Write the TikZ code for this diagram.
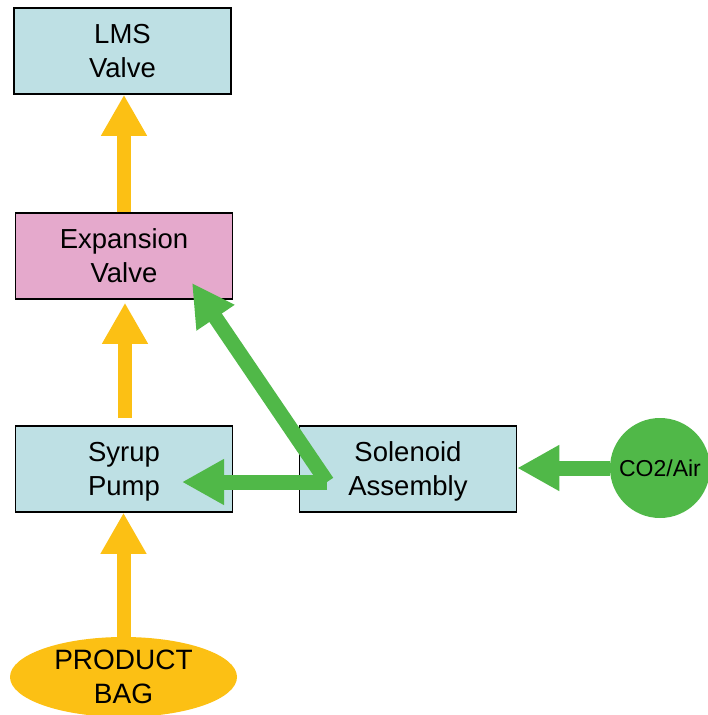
\documentclass[tikz,border=0pt]{standalone}
\usepackage{fontspec}
\setmainfont{Liberation Sans}
\usetikzlibrary{arrows.meta,shapes.geometric,calc}
\definecolor{boxblue}{RGB}{190,224,228}
\definecolor{boxpink}{RGB}{229,169,204}
\definecolor{flowyellow}{RGB}{252,192,20}
\definecolor{flowgreen}{RGB}{80,184,72}
\tikzset{
  unitbox/.style={draw=black, line width=1.5pt, minimum width=217pt, minimum height=86pt,
    inner sep=0pt, align=center, text depth=0pt, font=\fontsize{27.5}{34}\selectfont},
  yarrow/.style={draw=flowyellow, line width=14pt, -{Triangle[width=43pt,length=41pt]}, flowyellow},
  garrow/.style={draw=flowgreen, line width=15pt, -{Triangle[width=43pt,length=42pt]}, flowgreen},
  bagshape/.style={ellipse, fill=flowyellow, minimum width=227pt, minimum height=80pt, inner sep=0pt},
  gassource/.style={circle, fill=flowgreen, minimum size=100pt, inner sep=0pt,
    font=\fontsize{23}{28}\selectfont},
  baglabel/.style={align=center, inner sep=0pt, text depth=0pt, font=\fontsize{28}{34}\selectfont}
}
\begin{document}
\begin{tikzpicture}[x=1pt,y=1pt]
\useasboundingbox (0,0) rectangle (707,-715);
\node[unitbox, fill=boxblue] (lms) at (122.5,-51) {LMS\\Valve};
\node[unitbox, fill=boxpink] (exp) at (124,-256) {Expansion\\Valve};
\node[unitbox, fill=boxblue] (syrup) at (124,-469) {Syrup\\Pump};
\node[unitbox, fill=boxblue] (sol) at (408,-469) {Solenoid\\Assembly};
\node[gassource] (co2) at (660,-468) {CO2/Air};
\node[bagshape] (bag) at (123.5,-677) {};
\node[baglabel] (bagtext) at (bag.center) {PRODUCT\\BAG};
% yellow product flow
\draw[yarrow] (exp.north) -- (exp.north |- lms.south);
\draw[yarrow, shorten <=7pt, shorten >=3pt] ($(syrup.north)+(1,0)$) -- ($(syrup.north |- exp.south)+(1,0)$);
\draw[yarrow] (bag.north) -- (bag.north |- syrup.south);
% green gas flow
\coordinate (j) at (327,-482);
\coordinate (sptip) at (182,-482);
\coordinate (evtip) at (192,-283);
\draw[garrow] (co2.west) -- (sol.east |- co2.west);
\draw[garrow] (j) -- (evtip);
\draw[garrow] (j) -- (sptip);
\end{tikzpicture}
\end{document}
